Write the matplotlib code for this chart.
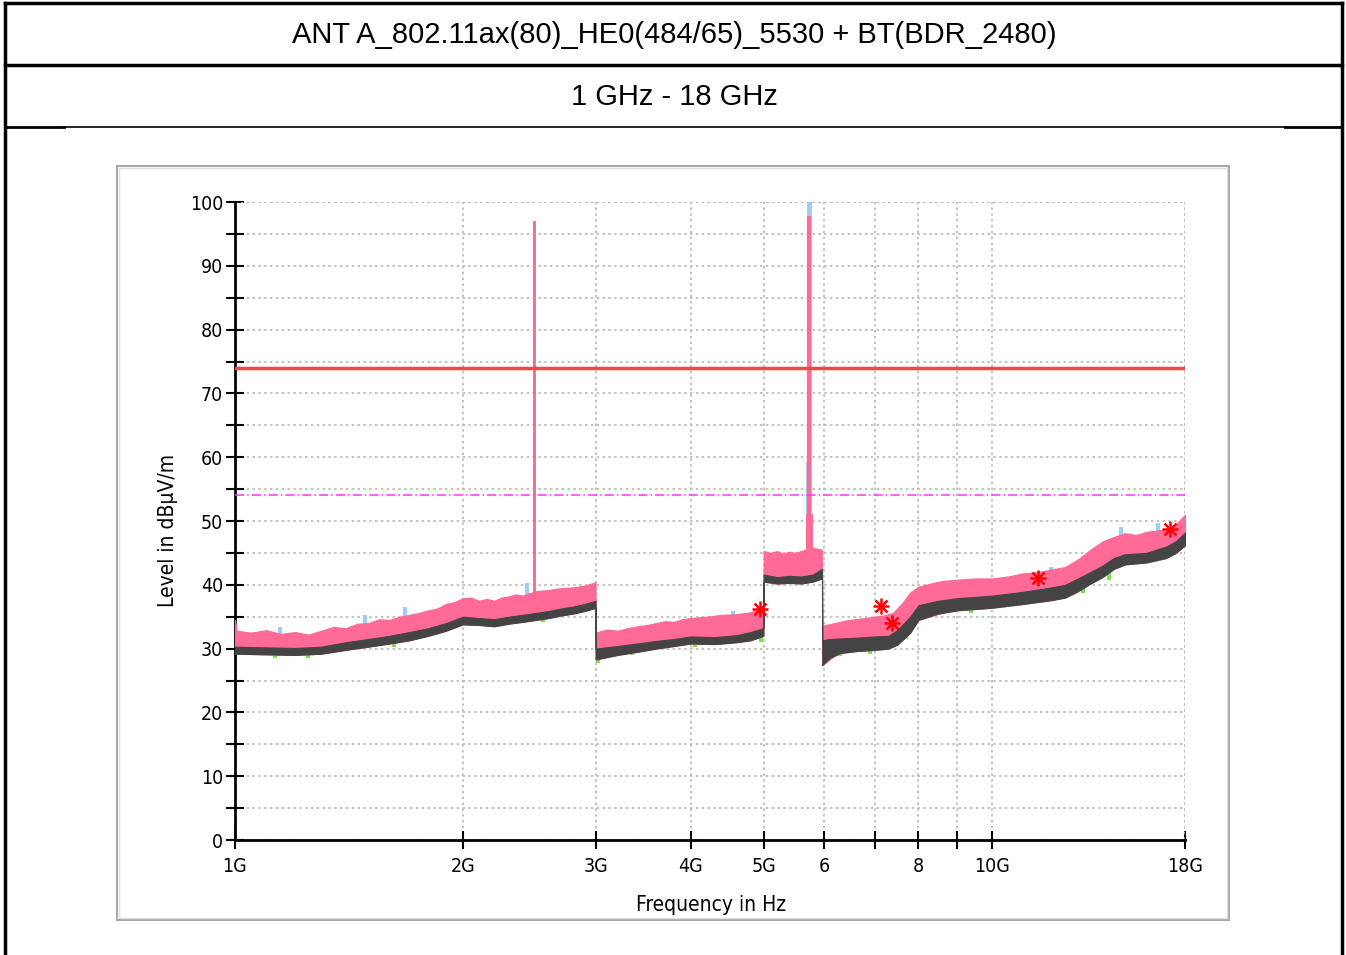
import numpy as np
import matplotlib
matplotlib.use('Agg')
import matplotlib.pyplot as plt
from matplotlib.patches import Rectangle
from matplotlib.ticker import FixedLocator, NullFormatter

TITLE = "ANT A_802.11ax(80)_HE0(484/65)_5530 + BT(BDR_2480)"
SUBTITLE = "1 GHz - 18 GHz"

# peak detector trace, upper edge (GHz, dBuV/m)
pk_f = [1.00, 1.005, 1.05, 1.10, 1.15, 1.20, 1.25, 1.30, 1.35, 1.40, 1.45, 1.50, 1.55, 1.60,
        1.65, 1.70, 1.75, 1.80, 1.85, 1.90, 1.95, 2.00, 2.05, 2.10, 2.15, 2.20, 2.25, 2.30,
        2.35, 2.40, 2.45, 2.50, 2.60, 2.70, 2.80, 2.90, 2.995,
        2.996, 3.10, 3.20, 3.30, 3.40, 3.50, 3.60, 3.70, 3.80, 3.90, 4.00, 4.20, 4.40, 4.60,
        4.80, 4.99,
        4.995, 5.10, 5.20, 5.30, 5.40, 5.50, 5.60, 5.70, 5.80, 5.965,
        5.97, 6.20, 6.40, 6.60, 6.80, 7.00, 7.20, 7.40, 7.60, 7.80, 8.00, 8.30, 8.60, 9.00,
        9.50, 10.0, 10.5, 11.0, 11.5, 12.0, 12.5, 13.0, 13.5, 14.0, 14.5, 15.0, 15.5, 16.0,
        16.5, 17.0, 17.5, 18.0]
pk_hi = [34.5, 32.8, 32.5, 32.9, 32.3, 32.6, 32.2, 32.8, 33.4, 33.2, 33.9, 34.0, 34.6, 34.5,
         35.0, 35.3, 35.6, 36.0, 36.3, 37.0, 37.3, 37.9, 38.0, 37.5, 37.8, 37.5, 38.0, 38.2,
         38.5, 38.3, 38.7, 39.0, 39.2, 39.5, 39.6, 39.9, 40.4,
         32.5, 33.0, 32.8, 33.2, 33.5, 33.7, 34.0, 34.3, 34.2, 34.6, 34.8, 35.0, 35.3, 35.4,
         35.7, 36.4,
         45.3, 45.0, 45.3, 44.9, 45.2, 45.0, 45.3, 45.6, 45.8, 45.5,
         33.6, 34.0, 34.4, 34.6, 34.8, 35.0, 35.2, 35.6, 37.0, 38.8, 39.7, 40.2, 40.6, 40.8,
         41.0, 41.0, 41.3, 41.8, 42.0, 42.4, 42.8, 44.0, 45.5, 46.8, 47.5, 48.1, 47.8, 48.3,
         48.5, 48.7, 49.5, 51.0]

# average detector trace, band (GHz, dBuV/m)
av_f = [1.00, 1.20, 1.30, 1.40, 1.50, 1.60, 1.70, 1.80, 1.90, 2.00, 2.10, 2.20, 2.30, 2.40,
        2.50, 2.60, 2.70, 2.80, 2.90, 2.995,
        2.996, 3.20, 3.40, 3.60, 3.80, 4.00, 4.30, 4.60, 4.80, 4.99,
        4.995, 5.20, 5.40, 5.60, 5.80, 5.965,
        5.97, 6.10, 6.30, 6.60, 7.00, 7.30, 7.50, 7.80, 8.00, 8.50, 9.00, 10.0, 11.0, 12.0,
        12.5, 13.0, 13.5, 14.0, 14.5, 15.0, 16.0, 17.0, 17.5, 18.0]
av_hi = [30.3, 30.1, 30.3, 31.0, 31.5, 32.0, 32.6, 33.2, 34.0, 35.0, 34.8, 34.6, 35.0, 35.3,
         35.6, 35.9, 36.3, 36.6, 37.0, 37.5,
         30.0, 30.4, 30.8, 31.2, 31.5, 31.9, 31.8, 32.1, 32.6, 33.2,
         41.6, 41.2, 41.4, 41.3, 41.6, 42.5,
         31.3, 31.5, 31.6, 31.7, 31.9, 32.0, 32.9, 35.0, 36.8, 37.5, 37.9, 38.3, 38.9, 39.6,
         40.0, 41.0, 42.0, 43.0, 44.2, 44.8, 45.0, 46.0, 46.8, 48.2]
av_lo = [29.2, 29.0, 29.2, 29.8, 30.3, 30.8, 31.3, 32.0, 32.8, 33.8, 33.7, 33.5, 33.9, 34.2,
         34.5, 34.8, 35.2, 35.5, 35.9, 36.4,
         28.3, 29.0, 29.5, 30.0, 30.4, 30.8, 30.7, 31.0, 31.3, 32.0,
         40.5, 40.2, 40.3, 40.2, 40.5, 41.0,
         27.4, 28.5, 29.3, 29.6, 29.8, 30.0, 30.6, 32.5, 34.5, 35.5, 36.0, 36.4, 37.0, 37.6,
         38.0, 39.0, 40.2, 41.2, 42.5, 43.2, 43.5, 44.2, 45.0, 46.2]

# max-hold overshoots above the peak trace
mx_f = [1.147, 1.484, 1.676, 2.43, 4.55, 5.71, 5.76, 11.96, 14.8, 16.6]
mx_lvl = [33.4, 35.3, 36.5, 40.3, 35.9, 59.2, 55.3, 42.8, 49.1, 49.7]

# average trace dips below the band
lo_f = [1.13, 1.25, 1.62, 2.55, 3.02, 3.35, 4.05, 4.95, 6.3, 6.9, 7.7, 9.4, 13.2, 14.3, 17.4]
lo_lvl = [28.6, 28.5, 30.3, 34.1, 27.8, 29.0, 30.3, 31.1, 28.8, 29.2, 31.5, 35.6, 38.7, 40.8, 44.6]

# carriers
bt_f, bt_lvl = 2.48, 96.9
wifi_f, wifi_lvl = 5.73, 97.5

# final measurement points
meas_f = [4.94, 7.14, 7.38, 11.5, 17.2]
meas_lvl = [36.2, 36.7, 34.0, 41.1, 48.7]

limit_pk = 74.0
limit_av = 54.0

x_ticks = [1, 2, 3, 4, 5, 6, 7, 8, 9, 10, 18]
x_labels = ['1G', '2G', '3G', '4G', '5G', '6', '', '8', '', '10G', '18G']

PINK = '#ff6a96'
GRAY = '#444444'
BLUE = '#9fcdf5'
GREEN = '#7ee04a'

NARROW = dict(family='DejaVu Sans', stretch='condensed')
tick_font = dict(NARROW, size=14)

fig = plt.figure(figsize=(13.46, 9.55), dpi=100)
W, H = 1346.0, 955.0


def fx(px):
    return px / W


def fy(py):
    return 1 - py / H


# table frame around the chart
lines = [((5, 1342), (3, 3), 2.5), ((5, 1342), (65, 65), 2.5),
         ((5, 64), (127, 127), 2.0), ((64, 1285), (127, 127), 1.2), ((1285, 1342), (127, 127), 2.0),
         ((5, 5), (3, 955), 2.5), ((1342, 1342), (3, 955), 2.5)]
for (x0, x1), (y0, y1), lw in lines:
    fig.add_artist(plt.Line2D([fx(x0), fx(x1)], [fy(y0), fy(y1)], color='black', lw=lw))

fig.text(fx(674), fy(35), TITLE, ha='center', va='center', fontsize=21, family='Liberation Sans')
fig.text(fx(674), fy(97), SUBTITLE, ha='center', va='center', fontsize=21, family='Liberation Sans')

# chart panel border
fig.add_artist(Rectangle((fx(117), fy(920)), fx(1229 - 117), (920 - 166) / H, fill=False,
                         edgecolor='#a8a8a8', lw=1.5))
fig.add_artist(Rectangle((fx(119), fy(918)), fx(1227 - 119), (918 - 168) / H, fill=False,
                         edgecolor='#e0e0e0', lw=1.0))

ax = fig.add_axes([fx(235), fy(840), fx(1185 - 235), (840 - 202) / H])
ax.set_xscale('log')
ax.set_xlim(1, 18)
ax.set_ylim(0, 100)

# max hold flecks, drawn beneath the peak band
ax.vlines(mx_f, np.interp(mx_f, pk_f, pk_hi) - 1.0, mx_lvl, color=BLUE, lw=3, zorder=2)
ax.vlines([wifi_f], 45, [101], color=BLUE, lw=3.5, zorder=2)

ax.fill_between(pk_f, np.interp(pk_f, av_f, av_lo), pk_hi, color=PINK, lw=0.8, ec=PINK, zorder=3)
ax.plot([bt_f, bt_f], [38, bt_lvl], color='#ef6a93', lw=2, zorder=3)
ax.plot([wifi_f, wifi_f], [44, wifi_lvl], color=PINK, lw=3, zorder=3)
ax.plot([wifi_f, wifi_f], [44, 50.6], color=PINK, lw=5, zorder=3)

ax.vlines(lo_f, lo_lvl, np.interp(lo_f, av_f, av_lo) + 0.5, color=GREEN, lw=3, zorder=3.5)
ax.fill_between(av_f, av_lo, av_hi, color=GRAY, lw=0.8, ec=GRAY, zorder=4)

ax.axhline(limit_pk, color='#f04848', lw=2.5, zorder=5)
ax.axhline(limit_av, color='#ff33ff', lw=1.1, ls=(0, (6, 2, 1, 2)), zorder=5)

for m in ['+', 'x']:
    ax.plot(meas_f, meas_lvl, ls='none', marker=m, ms=12 if m == '+' else 9,
            mew=1.8, color='#ff0000', zorder=6)

ax.xaxis.set_major_locator(FixedLocator(x_ticks))
ax.set_xticklabels(x_labels, fontdict=tick_font)
ax.xaxis.set_minor_formatter(NullFormatter())
ax.xaxis.set_minor_locator(FixedLocator([]))
ax.set_yticks(np.arange(0, 101, 10))
ax.set_yticklabels([str(v) for v in range(0, 101, 10)], fontdict=tick_font)
ax.set_yticks(np.arange(5, 100, 10), minor=True)

ax.tick_params(axis='both', which='both', direction='inout', length=13, width=1.5,
               color='black')
ax.tick_params(axis='x', pad=6)
ax.tick_params(axis='y', pad=2)

for s in ['top', 'right']:
    ax.spines[s].set_visible(False)
for s in ['left', 'bottom']:
    ax.spines[s].set_linewidth(2)

ax.grid(True, which='both', axis='y', color='#b8b8b8', ls=(0, (1.5, 2)), lw=1.2)
ax.grid(True, which='major', axis='x', color='#b8b8b8', ls=(0, (1.5, 2)), lw=1.2)
ax.axhline(100, color='#b8b8b8', ls=(0, (1.5, 2)), lw=1.2, zorder=1)
ax.axvline(18, color='#b8b8b8', ls=(0, (1.5, 2)), lw=1.2, zorder=1)
ax.set_axisbelow(True)

fig.text(fx(711), fy(905), 'Frequency in Hz', ha='center', va='center', fontsize=15, **NARROW)
fig.text(fx(168), fy(530), 'Level in dBµV/m', ha='center', va='center', rotation=90,
         fontsize=15, **NARROW)

fig.savefig('out.png', dpi=100)
